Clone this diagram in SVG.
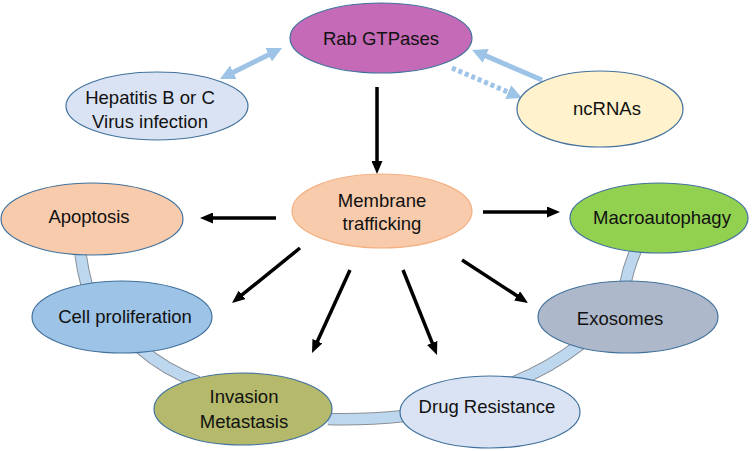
<svg xmlns="http://www.w3.org/2000/svg" width="753" height="451" viewBox="0 0 753 451">
<style>
.node ellipse{stroke:#41719c;stroke-width:1.2}
.node text{font-family:"Liberation Sans",Arial,sans-serif;font-size:18.5px;fill:#111;text-anchor:middle}
.band-o{fill:none;stroke:#8a8f96;stroke-width:12.5}
.band-i{fill:none;stroke:#bdd7ee;stroke-width:10.5}
.blk{stroke:#000;stroke-width:3.5;fill:none}
.blu{stroke:#9dc3e6;stroke-width:5;fill:none}
</style>
<defs>
<marker id="ah" markerUnits="userSpaceOnUse" markerWidth="13" markerHeight="11" refX="3" refY="5.5" orient="auto">
<path d="M0,0 L13,5.5 L0,11 z" fill="#000"/>
</marker>
<marker id="bh" markerUnits="userSpaceOnUse" markerWidth="15" markerHeight="15" refX="5" refY="7.5" orient="auto-start-reverse">
<path d="M0,0 L15,7.5 L0,15 z" fill="#9dc3e6"/>
</marker>
</defs>
<g id="ring">
<path class="band-o" d="M80,250 Q82,268 87,286"/>
<path class="band-o" d="M140,348 Q165,370 198,382"/>
<path class="band-o" d="M328,419 Q365,420 404,416"/>
<path class="band-o" d="M512,383 Q550,368 582,343"/>
<path class="band-o" d="M625,286 Q628,268 636,250"/>
<path class="band-i" d="M80,250 Q82,268 87,286"/>
<path class="band-i" d="M140,348 Q165,370 198,382"/>
<path class="band-i" d="M328,419 Q365,420 404,416"/>
<path class="band-i" d="M512,383 Q550,368 582,343"/>
<path class="band-i" d="M625,286 Q628,268 636,250"/>
</g>
<g id="connectors">
<line class="blu" x1="228.9" y1="74.5" x2="273.1" y2="52.5" marker-start="url(#bh)" marker-end="url(#bh)"/>
<line class="blu" x1="542" y1="80" x2="481.2" y2="53.9" marker-end="url(#bh)"/>
<line class="blu" x1="452" y1="68" x2="512.8" y2="94.1" stroke-dasharray="4,3" marker-end="url(#bh)"/>
<line class="blk" x1="377" y1="87" x2="377" y2="164" marker-end="url(#ah)"/>
<line class="blk" x1="276" y1="218" x2="210" y2="218" marker-end="url(#ah)"/>
<line class="blk" x1="483" y1="212" x2="550" y2="212" marker-end="url(#ah)"/>
<line class="blk" x1="300" y1="248" x2="239.8" y2="296.7" marker-end="url(#ah)"/>
<line class="blk" x1="350" y1="270" x2="316.2" y2="343.9" marker-end="url(#ah)"/>
<line class="blk" x1="403" y1="270" x2="433.3" y2="345.7" marker-end="url(#ah)"/>
<line class="blk" x1="462" y1="260" x2="519.6" y2="297.5" marker-end="url(#ah)"/>
</g>
<g id="rab" class="node"><ellipse cx="381" cy="38" rx="91" ry="35" fill="#c56ab6"/><text x="381" y="45">Rab GTPases</text></g>
<g id="hepatitis" class="node"><ellipse cx="157" cy="106" rx="91" ry="34" fill="#dae3f3"/><text x="150" y="104">Hepatitis B or C</text><text x="150" y="128">Virus infection</text></g>
<g id="ncrnas" class="node"><ellipse cx="600" cy="109" rx="83" ry="38" fill="#fff2cc"/><text x="607" y="115">ncRNAs</text></g>
<g id="membrane" class="node"><ellipse cx="382" cy="211" rx="90" ry="37" fill="#f8cbad" style="stroke:#f4b183"/><text x="382" y="207">Membrane</text><text x="382" y="230">trafficking</text></g>
<g id="apoptosis" class="node"><ellipse cx="92" cy="219" rx="91" ry="36" fill="#f8cbad"/><text x="89" y="223">Apoptosis</text></g>
<g id="macroautophagy" class="node"><ellipse cx="659" cy="218" rx="89" ry="35" fill="#92d050"/><text x="662" y="224">Macroautophagy</text></g>
<g id="exosomes" class="node"><ellipse cx="628" cy="317" rx="90" ry="36" fill="#adb9ca"/><text x="620" y="325">Exosomes</text></g>
<g id="cellprolif" class="node"><ellipse cx="122" cy="317" rx="90" ry="36" fill="#9dc3e6"/><text x="125" y="323">Cell proliferation</text></g>
<g id="invasion" class="node"><ellipse cx="243" cy="409" rx="89" ry="36" fill="#b4b96b"/><text x="244" y="403">Invasion</text><text x="244" y="428">Metastasis</text></g>
<g id="drug" class="node"><ellipse cx="490" cy="412" rx="90" ry="36" fill="#dae3f3"/><text x="487" y="413">Drug Resistance</text></g>
</svg>
